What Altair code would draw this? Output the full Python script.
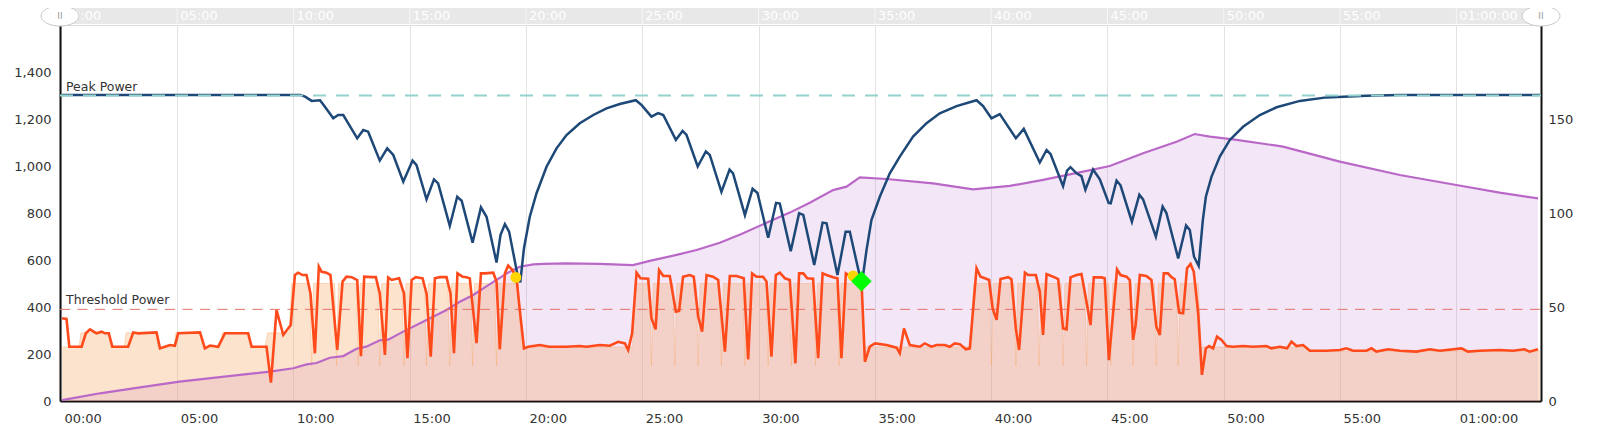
import altair as alt
import pandas as pd

# ---------------- data (time in minutes) ----------------
power_t = [0.05, 0.24, 0.36, 0.89, 1.07, 1.25, 1.53, 1.75, 1.89, 2.06, 2.21, 2.89, 3.11, 3.32, 4.11, 4.26, 4.47, 4.69, 4.9,
           5.04, 5.98, 6.19, 6.41, 6.76, 7.05, 8.05, 8.2, 8.84, 9.03, 9.27, 9.56, 9.88,
           10.06, 10.2, 10.39, 10.56, 10.73, 10.92, 11.09, 11.21, 11.42, 11.59, 11.88, 12.11, 12.28, 12.5, 12.74, 12.9,
           13.04, 13.36, 13.54, 13.71, 13.93, 14.07, 14.22, 14.54, 14.75, 14.9, 15.08, 15.26, 15.55, 15.72, 15.9,
           16.08, 16.29, 16.58, 16.75, 16.9, 17.05, 17.27, 17.44, 17.58, 17.87, 18.06, 18.23, 18.59, 18.73, 18.87,
           19.09, 19.23, 19.42, 19.59, 19.73, 19.91, 20.09, 20.59, 21.0, 21.74, 22.3, 22.6, 23.17, 23.6, 23.96, 24.25,
           24.39, 24.56, 24.75, 24.92, 25.25, 25.39, 25.57, 25.72, 25.9, 26.18, 26.44, 26.58, 26.75, 27.04, 27.21,
           27.4, 27.57, 27.76, 28.04, 28.26, 28.55, 28.76, 29.05, 29.36, 29.55, 29.72, 29.91, 30.19, 30.34, 30.55,
           30.74, 30.91, 31.13, 31.34, 31.58, 31.74, 31.92, 32.09, 32.34, 32.56, 32.75, 32.92, 33.2, 33.39, 33.56,
           33.75, 33.99, 34.42, 34.57, 34.78, 35.0, 35.5, 35.93, 36.07, 36.25, 36.5, 36.93, 37.14, 37.43, 37.65, 38.0,
           38.22, 38.43, 38.65, 38.91, 39.08, 39.37, 39.54, 39.73, 39.91, 40.06, 40.23, 40.4, 40.73, 40.87, 41.06,
           41.2, 41.45, 41.59, 41.92, 42.09, 42.23, 42.38, 42.66, 42.88, 43.09, 43.24, 43.41, 43.67, 43.88, 44.07,
           44.27, 44.41, 44.74, 44.88, 45.06, 45.24, 45.41, 45.56, 45.82, 45.96, 46.1, 46.21, 46.39, 46.67, 46.89,
           47.1, 47.25, 47.42, 47.6, 47.75, 47.89, 48.08, 48.25, 48.42, 48.57, 48.71, 48.9, 49.06, 49.23, 49.37,
           49.54, 49.71, 49.9, 50.12, 50.4, 50.83, 51.26, 51.84, 52.05, 52.41, 52.72, 52.91, 53.13, 53.41, 53.7,
           54.41, 54.99, 55.27, 55.56, 56.13, 56.35, 56.56, 57.07, 57.57, 58.28, 58.86, 59.29, 60.22, 60.5, 61.0,
           61.86, 62.43, 62.93, 63.15, 63.51]
power_w = [352, 349, 231, 231, 288, 305, 288, 295, 288, 288, 231, 231, 292, 288, 292, 224, 231, 238, 235,
           288, 292, 224, 236, 231, 288, 288, 231, 231, 78, 387, 281, 323,
           536, 546, 536, 536, 458, 203, 572, 550, 546, 536, 217, 508, 529, 527, 515, 191,
           529, 527, 527, 458, 196, 526, 515, 522, 458, 182, 515, 527, 522, 458, 189,
           522, 527, 527, 458, 203, 543, 529, 527, 522, 246, 543, 543, 546, 508, 220,
           543, 576, 557, 522, 387, 224, 231, 238, 231, 231, 234, 231, 238, 235, 252, 245,
           217, 288, 546, 522, 520, 352, 305, 557, 532, 532, 380, 383, 529, 536, 529,
           359, 295, 536, 529, 515, 210, 532, 532, 522, 177, 543, 529, 529, 508, 189,
           536, 546, 522, 515, 160, 543, 543, 522, 520, 182, 543, 536, 527, 522, 182,
           543, 527, 515, 167, 231, 245, 238, 227, 203, 309, 238, 231, 245, 231, 238, 238,
           231, 245, 242, 220, 224, 565, 529, 522, 515, 394, 345, 519, 527, 518, 309,
           217, 546, 536, 536, 465, 281, 540, 529, 519, 309, 305, 526, 536, 540, 437,
           323, 526, 526, 522, 174, 373, 560, 536, 529, 515, 260, 323, 536, 532, 515,
           316, 281, 543, 543, 527, 518, 376, 373, 565, 583, 550, 373, 111, 224, 234,
           224, 274, 260, 234, 231, 234, 231, 234, 224, 231, 224, 252, 234, 238, 214,
           214, 217, 224, 214, 214, 224, 210, 220, 214, 210, 220, 214, 224, 210, 214,
           217, 214, 220, 210, 220]

target_t = [0.05, 0.78, 0.86, 2.06, 2.14, 2.72, 2.80, 4.10, 4.18, 4.86, 4.94, 6.00, 6.08, 6.86, 6.94, 8.09, 8.17,
            8.77, 8.89, 9.82, 9.92,
            10.70, 10.78, 10.86, 11.77, 11.85, 11.93, 12.70, 12.78, 12.86, 13.63, 13.71, 13.79, 14.67, 14.75, 14.83,
            15.64, 15.72, 15.80, 16.64, 16.72, 16.80, 17.62, 17.70, 17.78, 18.65, 18.73, 18.81,
            19.66, 19.80, 24.58, 24.68,
            25.31, 25.39, 25.47, 26.32, 26.40, 26.48, 27.32, 27.40, 27.48, 28.32, 28.40, 28.48, 29.33, 29.41, 29.49,
            30.33, 30.41, 30.49, 31.33, 31.41, 31.49, 32.37, 32.45, 32.53, 33.38, 33.46, 33.54,
            34.42, 34.55, 39.15, 39.25,
            39.93, 40.01, 40.09, 40.98, 41.06, 41.14, 41.98, 42.06, 42.14, 43.01, 43.09, 43.17, 44.02, 44.10, 44.18,
            45.06, 45.14, 45.22, 46.02, 46.10, 46.18, 47.02, 47.10, 47.18, 47.96, 48.04, 48.12,
            48.90, 49.02, 53.60, 53.70, 63.60]
target_w = [230, 230, 290, 290, 230, 230, 290, 290, 230, 230, 290, 290, 230, 230, 290, 290, 230,
            230, 290, 290, 500,
            500, 150, 500, 500, 150, 500, 500, 150, 500, 500, 150, 500, 500, 150, 500,
            500, 150, 500, 500, 150, 500, 500, 150, 500, 500, 150, 500,
            500, 230, 230, 500,
            500, 150, 500, 500, 150, 500, 500, 150, 500, 500, 150, 500, 500, 150, 500,
            500, 150, 500, 500, 150, 500, 500, 150, 500, 500, 150, 500,
            500, 230, 230, 500,
            500, 150, 500, 500, 150, 500, 500, 150, 500, 500, 150, 500, 500, 150, 500,
            500, 150, 500, 500, 150, 500, 500, 150, 500, 500, 150, 500,
            500, 230, 230, 213, 213]

peak_t = [0.05, 10.3, 10.5, 10.78, 11.14, 11.35, 11.71, 11.92, 12.14, 12.74, 13.0, 13.21, 13.71, 14.03, 14.29,
          14.72, 15.12, 15.29, 15.72, 16.04, 16.22, 16.72, 17.04, 17.23, 17.7, 18.06, 18.3, 18.73, 18.9, 19.09,
          19.27, 19.62, 19.75, 19.91, 20.16, 20.45, 20.88, 21.31, 21.74, 22.31, 22.89, 23.46, 24.03, 24.72, 24.97,
          25.39, 25.68, 25.9, 26.44, 26.73, 26.9, 27.38, 27.73, 27.9, 28.4, 28.75, 28.9, 29.41, 29.74, 29.95,
          30.41, 30.75, 30.91, 31.38, 31.74, 31.92, 32.39, 32.75, 32.92, 33.39, 33.74, 33.92, 34.38, 34.49, 34.64,
          34.85, 35.21, 35.64, 36.07, 36.64, 37.22, 37.79, 38.51, 39.37, 39.65, 40.01, 40.37, 41.06, 41.4, 42.09,
          42.38, 42.55, 43.09, 43.26, 43.41, 43.67, 43.88, 44.05, 44.38, 44.67, 45.05, 45.14, 45.39, 45.56, 46.05,
          46.37, 46.53, 47.08, 47.37, 47.53, 48.04, 48.38, 48.54, 48.72, 48.92, 49.1, 49.23, 49.47, 49.83, 50.26,
          50.83, 51.55, 52.27, 53.27, 54.41, 56.13, 57.57, 63.6]
peak_w = [1302, 1302, 1295, 1277, 1280, 1252, 1203, 1217, 1217, 1118, 1153, 1146, 1023, 1075, 1047,
          933, 1023, 1004, 858, 943, 926, 745, 869, 852, 674, 824, 784, 589, 706, 753,
          721, 543, 505, 650, 784, 884, 997, 1075, 1132, 1182, 1217, 1245, 1264, 1280, 1259,
          1210, 1225, 1217, 1111, 1149, 1132, 998, 1062, 1047, 890, 985, 969, 791, 903, 885,
          695, 843, 840, 637, 799, 792, 579, 759, 756, 536, 720, 720, 518, 535, 643,
          770, 869, 969, 1040, 1125, 1182, 1224, 1255, 1280, 1255, 1203, 1221, 1118, 1158, 1015,
          1068, 1051, 914, 980, 995, 969, 957, 899, 985, 943, 843, 841, 938, 918, 763,
          878, 858, 699, 827, 801, 607, 747, 728, 614, 575, 770, 869, 954, 1040, 1111,
          1167, 1217, 1250, 1277, 1292, 1299, 1302, 1302]

load_t = [0.05, 1.68, 3.11, 5.1, 7.41, 8.99, 9.99, 10.56, 10.99, 11.56, 12.14, 12.71, 13.13, 13.71, 14.07,
          14.72, 15.72, 16.58, 17.15, 17.73, 18.16, 18.73, 19.3, 19.73, 20.31, 20.74, 21.74, 23.17, 24.6, 25.32,
          26.47, 27.33, 28.33, 29.26, 30.34, 31.34, 32.2, 33.2, 33.78, 34.35, 35.5, 37.5, 39.22, 40.8, 42.23,
          43.95, 45.1, 46.53, 47.97, 48.75, 49.4, 50.4, 52.55, 54.99, 57.57, 60.0, 61.86, 63.51]
load_v = [0.5, 4.1, 6.7, 10.3, 13.5, 15.6, 17.4, 19.5, 20.2, 23.0, 23.9, 27.8, 28.9, 32.3, 32.6,
          36.9, 43.1, 48.4, 52.8, 56.4, 59.9, 64.4, 68.8, 71.4, 72.7, 72.9, 73.2, 72.9, 72.3, 74.5,
          77.7, 80.3, 84.2, 88.8, 94.8, 100.2, 105.5, 112.2, 114.0, 119.0, 118.1, 115.8, 112.6, 114.4, 117.6,
          122.0, 125.0, 131.8, 137.9, 142.0, 140.6, 139.2, 135.3, 127.3, 120.2, 114.9, 110.8, 107.8]

ref_names = ["Peak Power", "Threshold Power"]
ref_values = [1300, 390]

event_t = [19.56, 34.06]
event_w = [526, 532]
best_t = [34.42]
best_w = [510]

tick_minutes = [0, 5, 10, 15, 20, 25, 30, 35, 40, 45, 50, 55, 60]
left_ticks = [0, 200, 400, 600, 800, 1000, 1200, 1400]
right_ticks = [0, 50, 100, 150]

XMIN, XMAX = -0.04, 63.64
W, H = 1481, 376
FONT = "DejaVu Sans"

power_df = pd.DataFrame({"t": power_t, "v": power_w})
target_df = pd.DataFrame({"t": target_t, "v": target_w})
peak_df = pd.DataFrame({"t": peak_t, "v": peak_w})
load_df = pd.DataFrame({"t": load_t, "v": load_v})
ref_df = pd.DataFrame({"name": ref_names, "v": ref_values})
event_df = pd.DataFrame({"t": event_t, "v": event_w})
best_df = pd.DataFrame({"t": best_t, "v": best_w})
tick_df = pd.DataFrame({"tick": tick_minutes})
handle_df = pd.DataFrame({"t": [XMIN, XMAX]})
band_df = pd.DataFrame({"a": [0]})

label_expr = ("datum.value >= 60 ? '01:' + (datum.value - 60 < 10 ? '0' : '') + (datum.value - 60) + ':00' "
              ": (datum.value < 10 ? '0' : '') + datum.value + ':00'")

xscale = alt.Scale(domain=[XMIN, XMAX], nice=False, zero=False)
lscale = alt.Scale(domain=[0, 1600], nice=False)
rscale = alt.Scale(domain=[0, 200], nice=False)

x_axis = alt.Axis(values=tick_minutes, labelExpr=label_expr, orient="bottom", grid=True, gridColor="#e4e4e4",
                  gridWidth=1, ticks=False, domain=True, domainColor="#111111", domainWidth=2, labelAlign="left",
                  labelOffset=3, labelPadding=11, labelFont=FONT, labelFontSize=13, labelColor="#333333",
                  labelBaseline="top", title=None)
left_axis = alt.Axis(values=left_ticks, labelExpr="format(datum.value, ',d')", orient="left", ticks=False,
                     grid=False, domainColor="#111111", domainWidth=2, labelPadding=9, labelFont=FONT,
                     labelFontSize=13, labelColor="#333333", title=None)
right_axis = alt.Axis(values=right_ticks, labelExpr="format(datum.value, 'd')", orient="right", ticks=False,
                      grid=False, domainColor="#111111", domainWidth=2, labelPadding=7, labelFont=FONT,
                      labelFontSize=13, labelColor="#333333", title=None)


def X(field="t", axis=None):
    return alt.X(f"{field}:Q", scale=xscale, axis=axis)


def YL(axis=None):
    return alt.Y("v:Q", scale=lscale, axis=axis)


def YR(axis=None):
    return alt.Y("v:Q", scale=rscale, axis=axis)


load_area = alt.Chart(load_df).mark_area(color="#ba68c8", opacity=0.17).encode(x=X(), y=YR())
target_area = alt.Chart(target_df).mark_area(color="#f5a25d", opacity=0.3).encode(x=X(), y=YL())
target_line = alt.Chart(target_df).mark_line(color="#f5a25d", opacity=0.35, strokeWidth=1).encode(x=X(), y=YL())
load_line = alt.Chart(load_df).mark_line(color="#ba68c8", strokeWidth=2.2).encode(x=X(), y=YR(right_axis))
thresh_rule = alt.Chart(ref_df).transform_filter("datum.name == 'Threshold Power'").mark_rule(
    color="#e57368", strokeWidth=1, strokeDash=[10, 7.5]).encode(
    x=alt.value(0), x2=alt.value(W), y=YL())
power_line = alt.Chart(power_df).mark_line(color="#ff4a1c", strokeWidth=2.6).encode(
    x=X(axis=x_axis), y=YL(left_axis))
peak_line = alt.Chart(peak_df).mark_line(color="#1d4877", strokeWidth=2.5).encode(x=X(), y=YL())
peak_rule = alt.Chart(ref_df).transform_filter("datum.name == 'Peak Power'").mark_rule(
    color="#94d2cd", strokeWidth=2, strokeDash=[13, 10]).encode(
    x=alt.value(0), x2=alt.value(W), y=YL())
ref_text = alt.Chart(ref_df).mark_text(align="left", baseline="alphabetic", dy=-5, font=FONT, fontSize=12.5,
                                       color="#333333").encode(x=alt.value(6), y=YL(), text="name:N")
event_pts = alt.Chart(event_df).mark_point(shape="circle", filled=True, color="#ffd500", opacity=1,
                                           size=120).encode(x=X(), y=YL())
best_pts = alt.Chart(best_df).mark_point(shape="diamond", filled=True, color="#00ff00", opacity=1,
                                         size=420).encode(x=X(), y=YL())

# navigator strip above the plot
band = alt.Chart(band_df).mark_rect(color="#e8e8e8").encode(
    x=alt.value(0), x2=alt.value(W), y=alt.value(-24), y2=alt.value(-1))
band_grid = alt.Chart(tick_df).mark_rule(color="#ffffff", opacity=0.6).encode(
    x=X("tick"), y=alt.value(-24), y2=alt.value(-1))
band_text = alt.Chart(tick_df).transform_calculate(
    lab=("datum.tick >= 60 ? '01:' + (datum.tick - 60 < 10 ? '0' : '') + (datum.tick - 60) + ':00' "
         ": (datum.tick < 10 ? '0' : '') + datum.tick + ':00'")
).mark_text(align="left", baseline="middle", dx=3, font=FONT, fontSize=13, color="#ffffff").encode(
    x=X("tick"), y=alt.value(-9), text="lab:N")
ellipse = "M -1 0 A 1 0.53 0 1 0 1 0 A 1 0.53 0 1 0 -1 0 Z"
handles = alt.Chart(handle_df).mark_point(shape=ellipse, filled=True, fill="#ffffff", stroke="#c8c8c8",
                                          strokeWidth=1, opacity=1, size=1444).encode(
    x=X(), y=alt.value(-9))
handle_text = alt.Chart(handle_df).mark_text(text="II", font=FONT, fontSize=9, color="#999999",
                                             baseline="middle").encode(x=X(), y=alt.value(-9))

chart = alt.layer(
    load_area, target_area, target_line, load_line, thresh_rule, power_line, peak_line, peak_rule,
    ref_text, event_pts, best_pts, band, band_grid, band_text, handles, handle_text
).resolve_scale(y="independent").resolve_axis(x="independent").properties(
    width=W, height=H,
    autosize=alt.AutoSizeParams(type="none"),
    padding={"left": 52, "top": 17, "right": 50, "bottom": 30},
).configure_view(stroke=None).configure(background="#ffffff")

chart.save("out.html", embed_options={"renderer": "svg", "actions": False})
